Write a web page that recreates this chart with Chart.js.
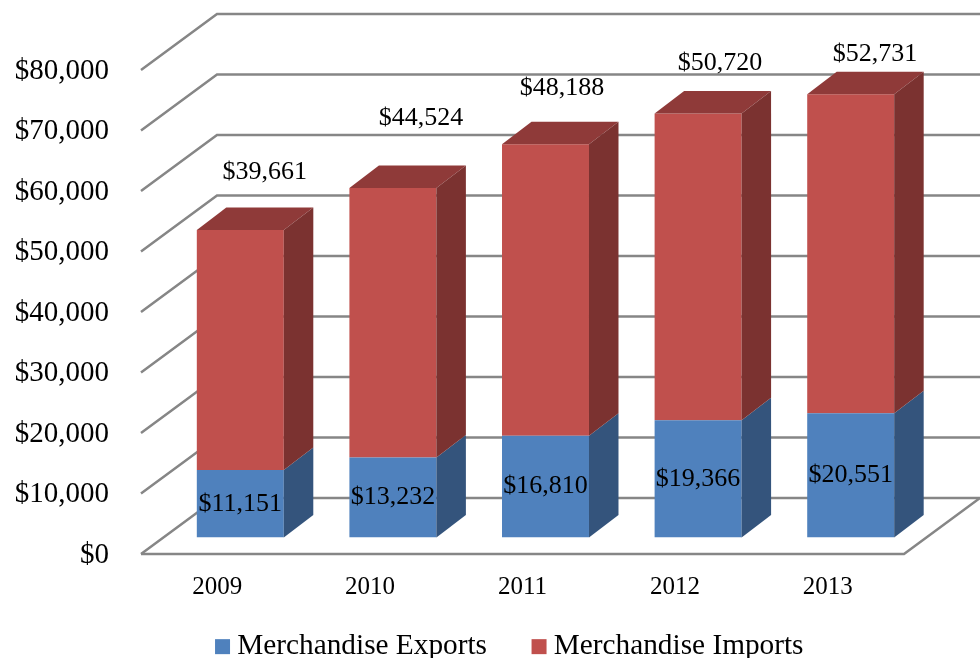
<!DOCTYPE html>
<html>
<head>
<meta charset="utf-8">
<script src="https://cdn.jsdelivr.net/npm/chart.js@4"></script>
<style>
  html, body { margin: 0; padding: 0; background: #fff; overflow: hidden; }
  canvas { display: block; }
</style>
</head>
<body>
<canvas id="tradeChart" width="980" height="658"></canvas>
<script>
const years = ["2009", "2010", "2011", "2012", "2013"];
const exportsValues = [11151, 13232, 16810, 19366, 20551];
const importsValues = [39661, 44524, 48188, 50720, 52731];

// the imports labels were moved by hand in the original, so each has its own offset from the bar top
const importLabelDx = [24.5, 28, 16.5, 22, 24.3];
const importLabelDy = [-58, -70, -56, -50, -40];

const serif = '"Liberation Serif", "Times New Roman", serif';
const gridColor = "#868686";
const wallDepth = { x: 76, y: -56 };
const barShift = { x: 23, y: -16.5 };
const barDepth = { x: 29.5, y: -22.5 };
const legendGap = 52;

const money = (v) => "$" + Number(v).toLocaleString("en-US");

const poly = (ctx, pts, color) => {
  ctx.fillStyle = color;
  ctx.beginPath();
  pts.forEach((p, i) => (i ? ctx.lineTo(p[0], p[1]) : ctx.moveTo(p[0], p[1])));
  ctx.closePath();
  ctx.fill();
};

const fakeThreeD = {
  id: "fakeThreeD",
  afterLayout(chart) {
    // legend padding also sets the gap between items, so move the box back to where it belongs
    const legend = chart.legend;
    legend.top = 632 - legendGap;
    legend.bottom = chart.height;
    legend.left += 61;
    legend.right += 61;
    // x labels get clipped to the scale box, which afterFit squeezed
    chart.scales.x.bottom += 60;
  },
  beforeDatasetsDraw(chart) {
    const { ctx, chartArea: area, scales } = chart;
    ctx.save();
    ctx.strokeStyle = gridColor;
    ctx.lineWidth = 2.5;
    scales.y.ticks.forEach((t) => {
      const y = scales.y.getPixelForValue(t.value);
      ctx.beginPath();
      ctx.moveTo(area.left, y);
      ctx.lineTo(area.left + wallDepth.x, y + wallDepth.y);
      ctx.lineTo(area.right + wallDepth.x, y + wallDepth.y);
      ctx.stroke();
    });
    // floor front and right edge
    ctx.beginPath();
    ctx.moveTo(area.left, area.bottom);
    ctx.lineTo(area.right, area.bottom);
    ctx.lineTo(area.right + wallDepth.x, area.bottom + wallDepth.y);
    ctx.stroke();
    ctx.restore();

    ctx.save();
    ctx.translate(barShift.x, barShift.y);
  },
  afterDatasetsDraw(chart) {
    const { ctx } = chart;
    ctx.restore();

    const lastSet = chart.data.datasets.length - 1;
    chart.data.datasets.forEach((ds, d) => {
      chart.getDatasetMeta(d).data.forEach((bar) => {
        const { x, y, base, width } = bar.getProps(["x", "y", "base", "width"], true);
        const l = x - width / 2 + barShift.x;
        const r = x + width / 2 + barShift.x;
        const t = y + barShift.y;
        const b = base + barShift.y;
        if (d === lastSet) {
          poly(ctx, [[l, t], [r, t], [r + barDepth.x, t + barDepth.y], [l + barDepth.x, t + barDepth.y]], ds.topColor);
        }
        poly(ctx, [[r, t], [r + barDepth.x, t + barDepth.y], [r + barDepth.x, b + barDepth.y], [r, b]], ds.sideColor);
      });
    });

    ctx.save();
    ctx.font = "26px " + serif;
    ctx.fillStyle = "#000";
    ctx.textAlign = "center";
    ctx.textBaseline = "middle";
    chart.getDatasetMeta(0).data.forEach((bar, i) => {
      const { x, y, base } = bar.getProps(["x", "y", "base"], true);
      ctx.fillText(money(exportsValues[i]), x + barShift.x, (y + base) / 2 + barShift.y);
    });
    chart.getDatasetMeta(1).data.forEach((bar, i) => {
      const { x, y } = bar.getProps(["x", "y"], true);
      ctx.fillText(money(importsValues[i]), x + barShift.x + importLabelDx[i], y + barShift.y + importLabelDy[i]);
    });
    ctx.restore();
  },
};

new Chart(document.getElementById("tradeChart"), {
  type: "bar",
  data: {
    labels: years,
    datasets: [
      {
        label: "Merchandise Exports",
        data: exportsValues,
        backgroundColor: "#4F81BD",
        sideColor: "#34547C",
      },
      {
        label: "Merchandise Imports",
        data: importsValues,
        backgroundColor: "#C0504D",
        sideColor: "#7B3230",
        topColor: "#8F3A39",
      },
    ],
  },
  options: {
    responsive: false,
    animation: false,
    layout: { padding: { top: 70, right: 76, left: 0, bottom: 24 } },
    datasets: { bar: { categoryPercentage: 1, barPercentage: 0.57 } },
    scales: {
      x: {
        stacked: true,
        grid: { display: false },
        border: { display: false },
        ticks: { color: "#000", font: { family: serif, size: 25 }, padding: 10, maxRotation: 0 },
        afterFit: (scale) => { scale.height = 4; },
      },
      y: {
        stacked: true,
        min: 0,
        max: 80000,
        grid: { display: false },
        border: { display: false },
        ticks: {
          stepSize: 10000,
          color: "#000",
          font: { family: serif, size: 29 },
          padding: 24,
          labelOffset: 1,
          callback: (v) => money(v),
        },
        afterFit: (scale) => { scale.width = 141; },
      },
    },
    plugins: {
      tooltip: { enabled: false },
      legend: {
        position: "bottom",
        maxHeight: 76,
        labels: {
          color: "#000",
          font: { family: serif, size: 29.3 },
          // a tiny box width with a rect point style pulls the text closer to the swatch
          usePointStyle: true,
          pointStyle: "rect",
          boxWidth: 0.1,
          boxHeight: 15,
          padding: legendGap,
        },
      },
    },
  },
  plugins: [fakeThreeD],
});
</script>
</body>
</html>
